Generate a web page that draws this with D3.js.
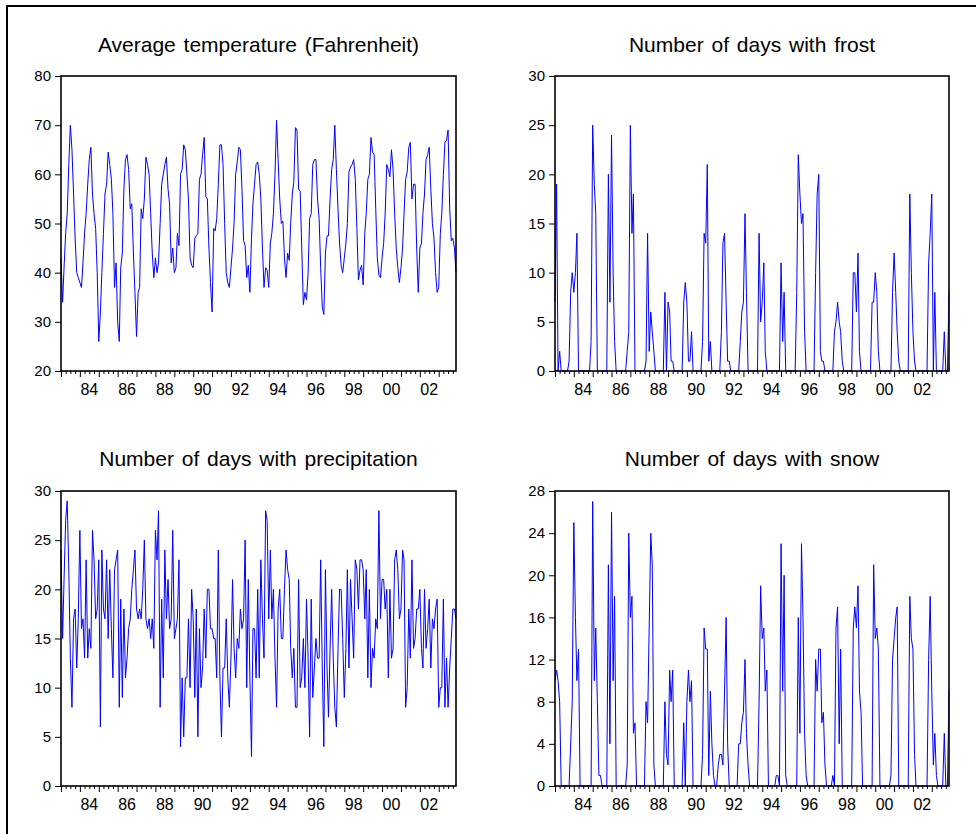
<!DOCTYPE html>
<html>
<head>
<meta charset="utf-8">
<script src="https://cdn.jsdelivr.net/npm/d3@7"></script>
<style>
  html, body { margin: 0; padding: 0; background: #fff; }
  svg { display: block; font-family: "Liberation Sans", Arial, sans-serif; }
</style>
</head>
<body>
<svg id="chart" width="976" height="834"></svg>
<script>
// monthly observations, 1983M01 .. 2003M12
const START_YEAR = 1983;

const temperature = [
  43, 34, 41, 48, 52, 62, 70, 65, 56, 47, 40, 39,
  38, 37, 42, 48, 52, 58, 63, 65.5, 56, 52, 49, 40,
  26, 32, 40, 48, 56, 58, 64.5, 62, 59, 52, 37, 42,
  30, 26, 41, 44, 57, 63, 64, 61, 53, 54, 44, 36,
  27, 36, 37, 53, 51, 55, 63.5, 62, 60, 52, 44, 39,
  43, 40, 42, 50, 58, 60, 62, 63.5, 57, 54, 42, 45,
  40, 41, 48, 45.5, 60, 61, 66, 65, 60, 55, 43, 41.5,
  41, 47, 47.5, 48, 59, 60, 64, 67.5, 55.5, 55, 45, 38,
  32, 49, 48.5, 51, 58, 66, 66, 62, 50, 40, 38, 37,
  41, 45, 50, 60, 62.5, 65.5, 65, 57, 46.5, 45.5, 39, 41.5,
  36, 47, 54, 58, 62, 62.5, 60, 55, 45, 37, 41, 40.5,
  37, 46, 48, 52, 60, 71, 63, 55, 50, 50.5, 43, 39,
  44, 42.5, 50, 56, 58.5, 69.5, 69, 57, 56.5, 45, 33.5, 36,
  34.5, 40, 51, 52, 62, 63, 63, 55, 51, 41, 33, 31.5,
  44, 47.5, 47.5, 55, 61, 63, 70, 61, 53, 46, 41.5, 40,
  43, 46, 50, 60.5, 61.5, 62, 63, 59, 49, 38.5, 40.5, 41.5,
  37.5, 48, 52, 59, 60, 67.5, 64.5, 64, 53, 43, 39.5, 39,
  43, 46, 52, 62, 61, 59.5, 65, 61, 52, 45, 41, 38,
  41, 45, 52, 59, 60.5, 65.5, 66.5, 55, 58, 58, 45, 36,
  45, 46, 52, 56, 63, 64, 65.5, 57, 50, 47, 40, 36,
  37, 48, 52, 60, 66.5, 67, 69, 53, 46.5, 47, 45, 40
];

const frost = [
  7, 19, 0, 2, 0, 0, 0, 0, 0, 1, 8, 10,
  8, 10, 14, 0, 0, 0, 0, 0, 0, 0, 0, 3,
  25, 19, 16, 0, 0, 0, 0, 0, 0, 0, 20, 7,
  24, 10, 3, 0, 0, 0, 0, 0, 0, 0, 2, 4,
  25, 14, 18, 0, 0, 0, 0, 0, 0, 0, 1, 14,
  2, 6, 4, 2, 0, 0, 0, 0, 0, 0, 8, 0,
  7, 6, 1, 1, 0, 0, 0, 0, 0, 0, 7, 9,
  7, 1, 1, 4, 0, 0, 0, 0, 0, 0, 3, 14,
  13, 21, 1, 3, 0, 0, 0, 0, 0, 0, 4, 13,
  14, 7, 1, 1, 0, 0, 0, 0, 0, 0, 3, 6,
  7, 16, 8, 0, 0, 0, 0, 0, 0, 0, 14, 5,
  7, 11, 2, 0, 0, 0, 0, 0, 0, 0, 0, 0,
  11, 3, 8, 0, 0, 0, 0, 0, 0, 0, 8, 22,
  18, 15, 16, 4, 0, 0, 0, 0, 0, 0, 10, 18,
  20, 2, 1, 1, 0, 0, 0, 0, 0, 0, 4, 5,
  7, 5, 4, 1, 0, 0, 0, 0, 0, 0, 10, 10,
  6, 12, 2, 0, 0, 0, 0, 0, 0, 0, 7, 7,
  10, 8, 2, 0, 0, 0, 0, 0, 0, 0, 0, 8,
  12, 8, 4, 1, 0, 0, 0, 0, 0, 0, 18, 10,
  4, 1, 0, 0, 0, 0, 0, 0, 0, 0, 11, 14,
  18, 0, 8, 0, 0, 0, 0, 0, 4, 0, 0, 8
];

const precipitation = [
  24, 15, 21, 27, 29, 22, 13, 8, 17, 18, 12, 17,
  26, 16, 17, 13, 23, 13, 16, 14, 26, 23, 17, 18,
  23, 6, 24, 18, 17, 23, 15, 22, 16, 11, 22, 23,
  24, 8, 19, 9, 18, 11, 13, 16, 17, 20, 22, 24,
  18, 17, 18, 17, 20, 25, 17, 16, 17, 15, 17, 14,
  26, 23, 28, 8, 19, 11, 24, 17, 21, 16, 17, 26,
  15, 16, 17, 23, 4, 11, 5, 11, 11, 17, 10, 20,
  17, 9, 18, 5, 16, 10, 12, 18, 13, 20, 20, 16,
  16, 15, 15, 11, 24, 11, 5, 12, 12, 17, 11, 8,
  13, 21, 14, 11, 15, 14, 18, 16, 17, 25, 10, 21,
  11, 3, 16, 16, 11, 20, 11, 23, 17, 13, 28, 27,
  17, 24, 17, 20, 13, 8, 18, 20, 15, 15, 20, 24,
  22, 21, 14, 11, 14, 8, 8, 21, 10, 11, 15, 10,
  19, 13, 5, 19, 9, 12, 15, 13, 13, 23, 12, 4,
  22, 12, 7, 14, 20, 13, 8, 6, 14, 20, 20, 15,
  9, 14, 22, 12, 21, 17, 13, 23, 22, 18, 23, 23,
  22, 17, 22, 11, 20, 10, 14, 13, 17, 16, 28, 17,
  21, 21, 18, 20, 11, 20, 13, 14, 23, 24, 22, 17,
  18, 24, 23, 8, 10, 18, 13, 23, 14, 15, 18, 18,
  20, 14, 12, 20, 14, 16, 19, 12, 17, 16, 18, 19,
  8, 10, 10, 19, 8, 13, 8, 12, 15, 18, 18, 17
];

const snow = [
  10, 11, 10, 8, 0, 0, 0, 0, 0, 0, 4, 8,
  25, 16, 10, 13, 0, 0, 0, 0, 0, 0, 0, 0,
  27, 10, 15, 8, 1, 1, 0, 0, 0, 0, 21, 4,
  26, 10, 18, 0, 0, 0, 0, 0, 0, 0, 2, 24,
  16, 18, 5, 6, 0, 0, 0, 0, 0, 0, 8, 6,
  15, 24, 21, 2, 0, 0, 0, 0, 0, 0, 8, 3,
  2, 11, 8, 11, 0, 0, 0, 0, 0, 0, 6, 0,
  8, 11, 8, 10, 0, 0, 0, 0, 0, 0, 3, 15,
  13, 13, 1, 9, 4, 1, 0, 0, 2, 3, 3, 2,
  9, 16, 4, 0, 0, 0, 0, 0, 0, 4, 4, 6,
  7, 12, 5, 2, 0, 0, 0, 0, 0, 0, 8, 19,
  14, 15, 9, 11, 0, 0, 0, 0, 0, 1, 1, 0,
  23, 9, 20, 1, 0, 0, 0, 0, 0, 0, 0, 16,
  5, 23, 16, 5, 1, 0, 0, 0, 0, 0, 12, 9,
  13, 13, 6, 7, 2, 0, 0, 0, 0, 1, 0, 15,
  17, 4, 13, 0, 0, 0, 0, 0, 0, 0, 15, 17,
  15, 19, 9, 7, 0, 0, 0, 0, 0, 0, 0, 21,
  14, 15, 13, 0, 0, 0, 0, 0, 0, 0, 1, 12,
  14, 16, 17, 0, 0, 0, 0, 0, 0, 0, 18, 14,
  13, 3, 0, 0, 0, 0, 0, 0, 0, 0, 12, 18,
  9, 2, 5, 1, 0, 0, 0, 0, 5, 0, 0, 9
];

const labelYears = [1984, 1986, 1988, 1990, 1992, 1994, 1996, 1998, 2000, 2002];

const panels = [
  { title: 'Average temperature (Fahrenheit)', values: temperature,
    yDomain: [20, 80], yTicks: [20, 30, 40, 50, 60, 70, 80],
    box: { x: 61, y: 76, w: 395, h: 295 }, titleY: 52 },
  { title: 'Number of days with frost', values: frost,
    yDomain: [0, 30], yTicks: [0, 5, 10, 15, 20, 25, 30],
    box: { x: 555, y: 76, w: 394, h: 295 }, titleY: 52 },
  { title: 'Number of days with precipitation', values: precipitation,
    yDomain: [0, 30], yTicks: [0, 5, 10, 15, 20, 25, 30],
    box: { x: 61, y: 491, w: 395, h: 295 }, titleY: 466 },
  { title: 'Number of days with snow', values: snow,
    yDomain: [0, 28], yTicks: [0, 4, 8, 12, 16, 20, 24, 28],
    box: { x: 555, y: 491, w: 394, h: 295 }, titleY: 466 }
];

const svg = d3.select('#chart');

// outer frame (only left and top edges fall inside the picture)
svg.append('rect')
  .attr('x', 7).attr('y', 6)
  .attr('width', 1000).attr('height', 1000)
  .attr('fill', 'none')
  .attr('stroke', '#000')
  .attr('stroke-width', 2);

panels.forEach(drawPanel);

function drawPanel (p) {
  const b = p.box;
  const n = p.values.length;
  const dates = p.values.map((v, i) => new Date(START_YEAR, i, 1));

  const x = d3.scaleTime()
    .domain([dates[0], dates[n - 1]])
    .range([b.x, b.x + b.w]);
  const y = d3.scaleLinear()
    .domain(p.yDomain)
    .range([b.y + b.h, b.y]);

  const g = svg.append('g');

  // title
  g.append('text')
    .attr('x', b.x + b.w / 2)
    .attr('y', p.titleY)
    .attr('text-anchor', 'middle')
    .attr('font-size', 21)
    .attr('word-spacing', 2)
    .attr('fill', '#000')
    .text(p.title);

  // y axis
  const yAxis = g.append('g')
    .attr('transform', `translate(${b.x},0)`)
    .call(d3.axisLeft(y).tickValues(p.yTicks).tickSize(6).tickPadding(4));
  yAxis.select('.domain').remove();
  yAxis.selectAll('text')
    .attr('font-size', 15)
    .attr('font-family', '"Liberation Sans", Arial, sans-serif')
    .attr('fill', '#000');
  yAxis.selectAll('line').attr('stroke', '#000');

  // x axis: year ticks and quarter ticks
  const quarters = d3.timeMonth.every(3).range(dates[0], new Date(START_YEAR, n, 1))
    .filter(d => d.getMonth() !== 0);
  const xq = g.append('g')
    .attr('transform', `translate(0,${b.y + b.h})`)
    .call(d3.axisBottom(x).tickValues(quarters).tickSize(3).tickFormat(''));
  xq.select('.domain').remove();
  const years = d3.timeYear.range(dates[0], new Date(START_YEAR, n, 1));
  const xy = g.append('g')
    .attr('transform', `translate(0,${b.y + b.h})`)
    .call(d3.axisBottom(x).tickValues(years).tickSize(6).tickFormat(''));
  xy.select('.domain').remove();
  g.selectAll('.tick line').attr('stroke', '#000');

  // year labels, centred on the middle of the year
  g.selectAll('text.xlab')
    .data(labelYears)
    .enter().append('text')
      .attr('class', 'xlab')
      .attr('x', d => x(new Date(d, 6, 1)))
      .attr('y', b.y + b.h + 24)
      .attr('text-anchor', 'middle')
      .attr('font-size', 16)
      .attr('fill', '#000')
      .text(d => String(d % 100).padStart(2, '0'));

  // series
  const line = d3.line()
    .x((d, i) => x(dates[i]))
    .y(d => y(d));
  g.append('path')
    .datum(p.values)
    .attr('d', line)
    .attr('fill', 'none')
    .attr('stroke', '#0000ff')
    .attr('stroke-width', 1)
    .attr('stroke-linejoin', 'miter');

  // plot frame
  g.append('rect')
    .attr('x', b.x).attr('y', b.y)
    .attr('width', b.w).attr('height', b.h)
    .attr('fill', 'none')
    .attr('stroke', '#000')
    .attr('stroke-width', 1.6);
}
</script>
</body>
</html>
